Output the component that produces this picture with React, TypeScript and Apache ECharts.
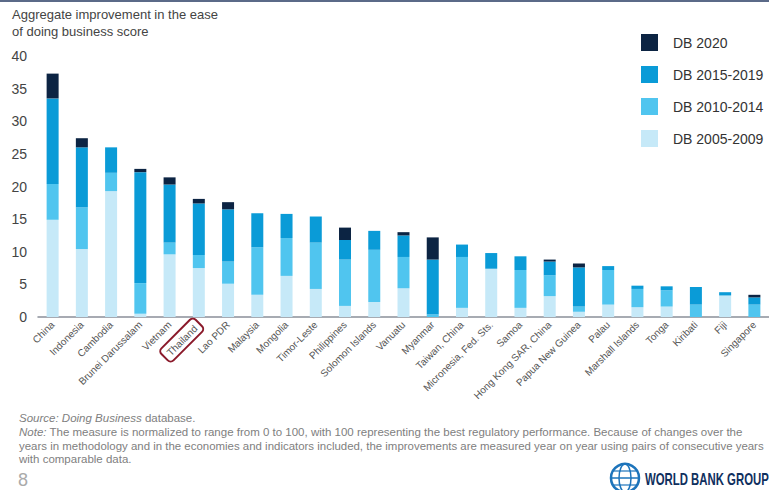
import React, { useEffect, useRef } from "react";
import * as echarts from "echarts";

const categories = [
  "China", "Indonesia", "Cambodia", "Brunei Darussalam", "Vietnam", "Thailand", "Lao PDR",
  "Malaysia", "Mongolia", "Timor-Leste", "Philippines", "Solomon Islands", "Vanuatu",
  "Myanmar", "Taiwan, China", "Micronesia, Fed. Sts.", "Samoa", "Hong Kong SAR, China",
  "Papua New Guinea", "Palau", "Marshall Islands", "Tonga", "Kiribati", "Fiji", "Singapore",
];
const db2005_2009 = [14.9, 10.4, 19.3, 0.5, 9.6, 7.5, 5.1, 3.4, 6.3, 4.3, 1.7, 2.3, 4.4, 0, 1.4, 7.4, 1.4, 3.2, 0.8, 1.9, 1.5, 1.6, 0, 3.3, 0];
const db2010_2014 = [5.5, 6.4, 2.8, 4.7, 1.8, 2.0, 3.4, 7.3, 5.8, 7.1, 7.1, 8.0, 4.8, 0.4, 7.8, 0, 5.8, 3.2, 0.8, 5.3, 2.8, 2.5, 1.9, 0, 1.9];
const db2015_2019 = [13.1, 9.2, 3.9, 17.0, 8.9, 7.9, 8.0, 5.2, 3.7, 4.0, 3.0, 2.9, 3.3, 8.4, 1.9, 2.4, 2.1, 2.1, 6.0, 0.6, 0.5, 0.6, 2.7, 0.5, 1.1];
const db2020 = [3.8, 1.4, 0, 0.5, 1.1, 0.7, 1.1, 0, 0, 0, 1.9, 0, 0.5, 3.4, 0, 0, 0, 0.3, 0.6, 0, 0, 0, 0, 0, 0.4];
const yTicks = { min: 0, max: 40, interval: 5 };
const seriesNames = ["DB 2005-2009", "DB 2010-2014", "DB 2015-2019", "DB 2020"];
const colors = ["#c6e9f8", "#50c5ef", "#0a9bd7", "#0c2443"];
const highlighted = "Thailand";

export default function App() {
  const ref = useRef<HTMLDivElement>(null);
  useEffect(() => {
    if (!ref.current) return;
    const chart = echarts.init(ref.current, undefined, { renderer: "svg" });
    const data = [db2005_2009, db2010_2014, db2015_2019, db2020];
    const font = "Liberation Sans, Arial, sans-serif";
    const noteStyle = (text: string) => ({
      text,
      fontSize: 11.5,
      fill: "#808080",
      fontFamily: font,
      verticalAlign: "middle",
      rich: { i: { fontStyle: "italic", fontSize: 11.5, fill: "#808080", fontFamily: font } },
    });
    chart.setOption({
      animation: false,
      textStyle: { fontFamily: font },
      grid: { left: 38, right: 0, top: 56, bottom: 173, containLabel: false },
      legend: {
        data: ["DB 2020", "DB 2015-2019", "DB 2010-2014", "DB 2005-2009"],
        orient: "vertical",
        left: 636,
        top: 29,
        itemWidth: 17,
        itemHeight: 17,
        itemGap: 15,
        icon: "rect",
        textStyle: { fontSize: 14, color: "#333", padding: [0, 0, 0, 10], fontFamily: font },
      },
      xAxis: {
        type: "category",
        data: categories,
        axisLine: { lineStyle: { color: "#8a8f99", width: 1.5 } },
        axisTick: { show: false },
        axisLabel: {
          rotate: 45,
          interval: 0,
          margin: 6,
          fontSize: 10,
          color: "#555",
          formatter: (v: string) => (v === highlighted ? `{hl|${v}}` : v),
          rich: {
            hl: {
              fontSize: 10,
              color: "#555",
              borderColor: "#8b1a2b",
              borderWidth: 2,
              borderRadius: 4,
              padding: [4, 5, 3, 5],
            },
          },
        },
      },
      yAxis: {
        type: "value",
        min: yTicks.min,
        max: yTicks.max,
        interval: yTicks.interval,
        axisLine: { show: false },
        axisTick: { show: false },
        splitLine: { show: false },
        axisLabel: { fontSize: 14, color: "#444", margin: 11 },
      },
      series: seriesNames.map((name, i) => ({
        name,
        type: "bar",
        stack: "total",
        barWidth: 12,
        data: data[i],
        itemStyle: { color: colors[i] },
      })),
      graphic: [
        { type: "rect", left: 0, top: 0, shape: { width: 769, height: 2 }, style: { fill: "#5b6a88" } },
        {
          type: "text", left: 12, top: 6,
          style: { text: "Aggregate improvement in the ease\nof doing business score", fontSize: 13, lineHeight: 17, fill: "#444", fontFamily: font },
        },
        { type: "text", x: 19, y: 418, style: noteStyle("{i|Source: Doing Business} database.") },
        {
          type: "text", x: 19, y: 431.5, scaleX: 1.0,
          style: noteStyle("{i|Note:} The measure is normalized to range from 0 to 100, with 100 representing the best regulatory performance. Because of changes over the"),
        },
        {
          type: "text", x: 19, y: 445.5, scaleX: 0.995,
          style: noteStyle("years in methodology and in the economies and indicators included, the improvements are measured year on year using pairs of consecutive years"),
        },
        { type: "text", x: 19, y: 459, style: noteStyle("with comparable data.") },
        { type: "text", x: 18, y: 480, style: { text: "8", fontSize: 18, fill: "#aaa", fontFamily: font, verticalAlign: "middle" } },
        { type: "circle", shape: { cx: 625, cy: 478, r: 14 }, style: { fill: "none", stroke: "#1d74bb", lineWidth: 2.5 } },
        { type: "ellipse", shape: { cx: 625, cy: 478, rx: 6, ry: 14 }, style: { fill: "none", stroke: "#1d74bb", lineWidth: 1.5 } },
        { type: "line", shape: { x1: 611, y1: 478, x2: 639, y2: 478 }, style: { stroke: "#1d74bb", lineWidth: 1.5 } },
        { type: "line", shape: { x1: 613, y1: 471, x2: 637, y2: 471 }, style: { stroke: "#1d74bb", lineWidth: 1.2 } },
        { type: "line", shape: { x1: 613, y1: 485, x2: 637, y2: 485 }, style: { stroke: "#1d74bb", lineWidth: 1.2 } },
        {
          type: "text", x: 645, y: 479, scaleX: 0.69,
          style: { text: "WORLD BANK GROUP", fontSize: 16.5, fontWeight: "bold", fill: "#10305e", fontFamily: font, verticalAlign: "middle" },
        },
      ],
    });
    return () => chart.dispose();
  }, []);
  return <div ref={ref} style={{ position: "fixed", left: 0, top: 0, width: 769, height: 490, background: "#fff" }} />;
}
